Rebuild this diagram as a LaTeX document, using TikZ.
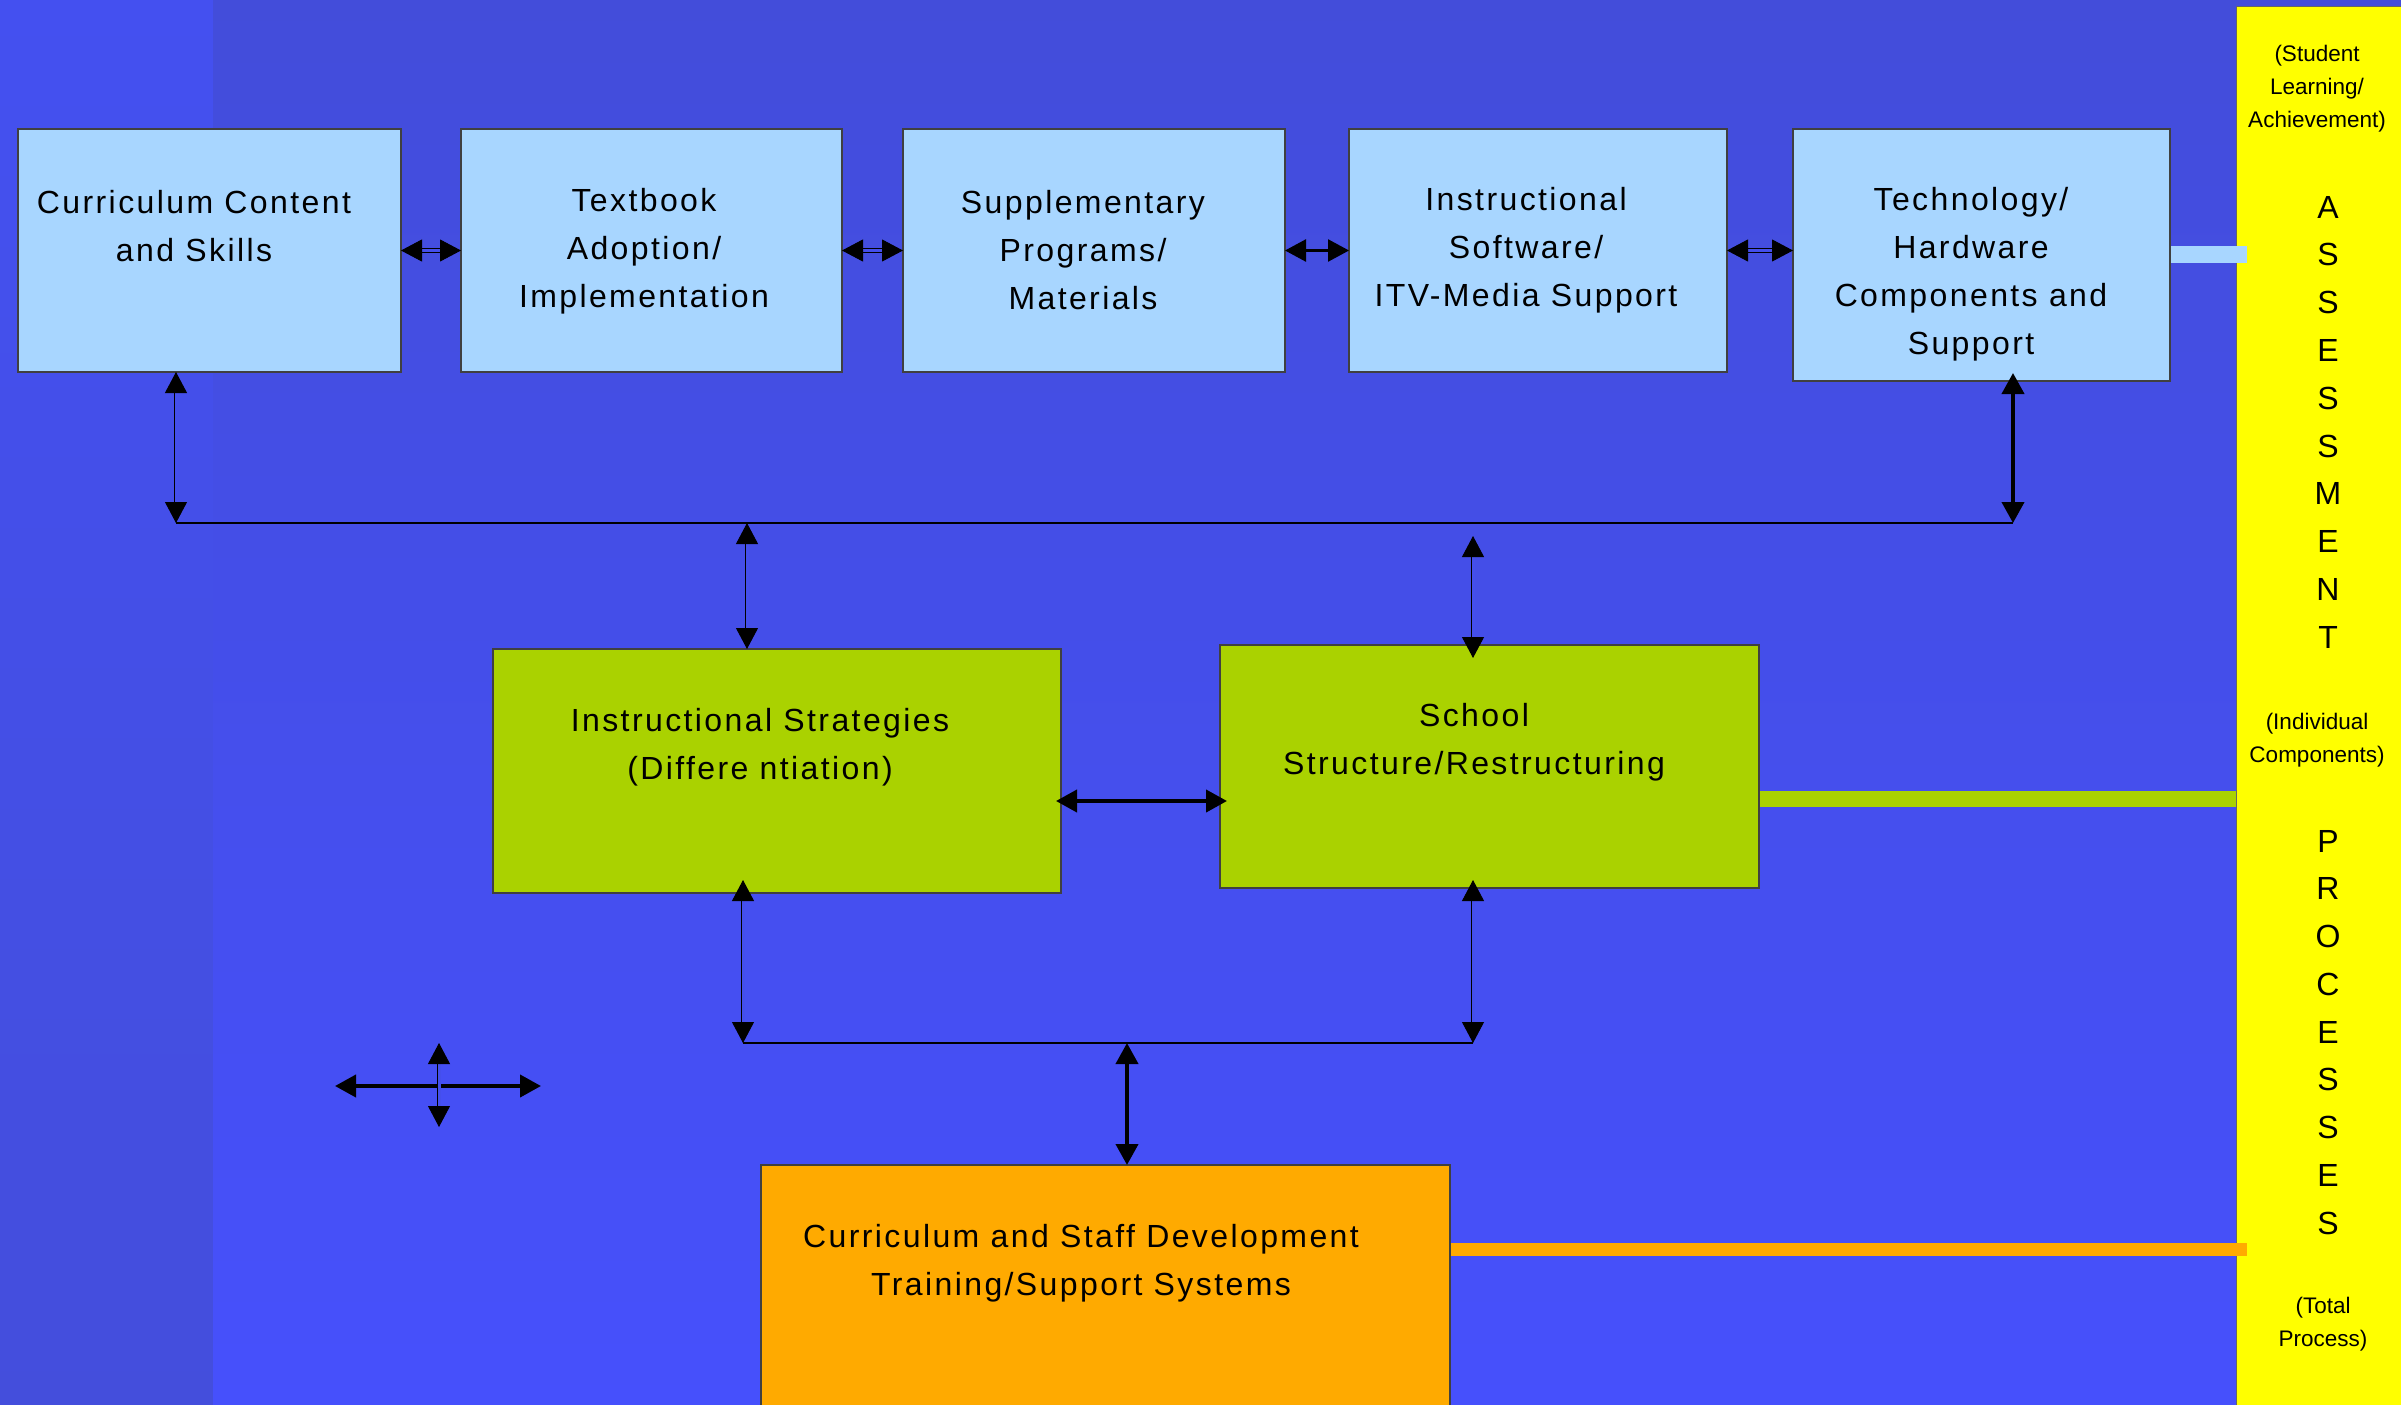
\documentclass[tikz,border=0pt]{standalone}
\usepackage{fontspec}
\setmainfont{Liberation Sans}
\newfontfamily\boxfont[LetterSpace=7.5]{Liberation Sans}
\usetikzlibrary{arrows.meta,fit,calc}
\definecolor{lb}{RGB}{168,214,255}
\definecolor{gr}{RGB}{170,210,0}
\definecolor{org}{RGB}{255,170,0}
\definecolor{yel}{RGB}{255,255,0}
\definecolor{bgmid}{RGB}{68,79,236}
\definecolor{mtop}{RGB}{67,77,218}
\definecolor{mbot}{RGB}{70,80,252}
\definecolor{ltop}{RGB}{68,80,240}
\definecolor{lbot}{RGB}{68,78,220}
\begin{document}
\begin{tikzpicture}[x=1pt,y=-1pt,
 >={Triangle[length=21pt,width=22pt]},
 box/.style={draw=black!75, line width=1.3pt, inner sep=0pt, outer sep=0pt},
 txt/.style={font=\boxfont\fontsize{32}{48}\selectfont, align=center, inner sep=0pt},
 ytxt/.style={font=\fontsize{22.5}{33}\selectfont, align=center, inner sep=0pt},
 ltr/.style={font=\fontsize{32}{32}\selectfont, inner sep=0pt},
 dbl/.style={<->, line width=0.9pt, double=bgmid, double distance=3pt},
 thk/.style={<->, line width=4pt},
 mid/.style={<->, line width=2.5pt},
 bus/.style={line width=1.3pt}
]
\useasboundingbox (0,0) rectangle (2401,1405);
% background
\shade[top color=ltop, bottom color=lbot] (0,0) rectangle (213,1405);
\shade[top color=mtop, bottom color=mbot] (213,0) rectangle (2401,1405);
% assessment column
\fill[yel] (2236,7) rectangle (2401,1405);
\draw[black!60, line width=1pt] (2236,1405) -- (2236,7) -- (2401,7);
% strips
\fill[lb] (2170,246) rectangle (2247,263);
\fill[gr] (1759,791) rectangle (2236,807);
\fill[org] (1450,1243) rectangle (2247,1256);
% boxes
\node[box, fill=lb, fit={(18,129) (401,372)}] (b1) {};
\node[box, fill=lb, fit={(461,129) (842,372)}] (b2) {};
\node[box, fill=lb, fit={(903,129) (1285,372)}] (b3) {};
\node[box, fill=lb, fit={(1349,129) (1727,372)}] (b4) {};
\node[box, fill=lb, fit={(1793,129) (2170,381)}] (b5) {};
\node[box, fill=gr, fit={(493,649) (1061,893)}] (b6) {};
\node[box, fill=gr, fit={(1220,645) (1759,888)}] (b7) {};
\node[box, fill=org, fit={(761,1165) (1450,1415)}] (b8) {};
% texts
\node[txt] (t1) at (194,226) {Curriculum Content\\and Skills};
\node[txt] (t2) at (644,251) {Textbook\\Adoption/\\Implementation};
\node[txt] (t3) at (1083,250) {Supplementary\\Programs/\\Materials};
\node[txt] (t4) at (1526,250) {Instructional\\Software/\\ITV-Media Support};
\node[txt] (t5) at (1971,274) {Technology/\\Hardware\\Components and\\Support};
\node[txt] (t6) at (760,747) {Instructional Strategies\\(Differe ntiation)};
\node[txt] (t7) at (1474,742) {School\\Structure/Restructuring};
\node[txt] (t8) at (1081,1263) {Curriculum and Staff Development\\Training/Support Systems};
\node[ytxt] (y1) at (2317,89) {(Student\\Learning/\\Achievement)};
\node[ytxt] (y2) at (2317,740) {(Individual\\Components)};
\node[ytxt] (y3) at (2323,1324) {(Total\\Process)};
\foreach \l [count=\i from 0] in {A,S,S,E,S,S,M,E,N,T}
  \node[ltr] (as\i) at (2328,207+47.8*\i) {\l};
\foreach \l [count=\i from 0] in {P,R,O,C,E,S,S,E,S}
  \node[ltr] (pr\i) at (2328,841+47.75*\i) {\l};
% top row arrows
\draw[dbl] (b1.east) -- (b2.west);
\draw[dbl] (b2.east) -- (b3.west);
\draw[mid] (b3.east) -- (b4.west);
\draw[dbl] (b4.east) -- (b4.east -| b5.west);
% upper bus
\coordinate (busL) at (176,523);
\coordinate (busR) at (2013,523);
\draw[bus] (busL) -- (busR);
\draw[dbl] (b1.south -| busL) -- (busL);
\draw[thk, shorten <=-8pt] (b5.south -| busR) -- (busR);
\coordinate (u6) at (747,523);
\draw[dbl] (u6) -- (u6 |- b6.north);
\coordinate (u7) at (1473,536);
\draw[dbl, shorten >=-13pt] (u7) -- (u7 |- b7.north);
% middle link
\coordinate (hm) at (1140,801);
\draw[thk, shorten <=-5pt, shorten >=-7pt] (hm -| b6.east) -- (hm -| b7.west);
% lower bus
\coordinate (bL) at (743,1043);
\coordinate (bR) at (1473,1043);
\draw[bus] (bL) -- (bR);
\draw[dbl, shorten <=-13pt] (b6.south -| bL) -- (bL);
\draw[dbl, shorten <=-8pt] (b7.south -| bR) -- (bR);
\coordinate (m) at (1127,1043);
\draw[thk] (m) -- (m |- b8.north);
% legend cross
\coordinate (cxL) at (335,1086);
\coordinate (cxR) at (541,1086);
\coordinate (cyT) at (439,1043);
\coordinate (cyB) at (439,1127);
\draw[thk] (cxL) -- (cxR);
\draw[dbl] (cyT) -- (cyB);
\end{tikzpicture}
\end{document}
